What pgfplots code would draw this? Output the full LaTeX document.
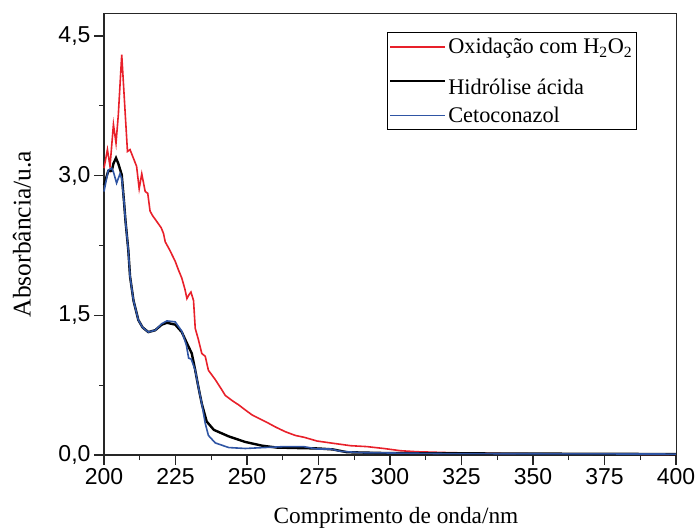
\documentclass[border=0pt]{standalone}
\usepackage{pgfplots}
\pgfplotsset{compat=1.18}
\usepackage{fontspec}
\setmainfont{Liberation Serif}
\newfontfamily\arialfont{Liberation Sans}

\definecolor{oxred}{HTML}{E8202A}
\definecolor{ketoblue}{HTML}{2F55A4}

% sample line for a taller legend row: the extra point lowers the line to the text
\pgfplotsset{
  lowered legend/.style={
    legend image code/.code={\draw[##1] (0pt,0pt) -- (55pt,0pt); \path (0pt,12pt);}
  }
}

\begin{document}
\begin{tikzpicture}
\useasboundingbox (0,0) rectangle (696pt,528pt);
\begin{axis}[
  at={(104pt,73pt)}, anchor=south west,
  width=572pt, height=442pt, scale only axis,
  xmin=200, xmax=400, ymin=0, ymax=4.747,
  axis lines*=left,
  clip=false,
  xtick={200,225,...,400},
  ytick={0,1.5,3,4.5},
  minor x tick num=1, minor y tick num=1,
  tick align=outside,
  major tick length=10pt, minor tick length=5pt,
  every tick/.style={line width=1.2pt, black!85},
  axis line style={line width=1.4pt, black!85},
  /pgf/number format/assume math mode=true,
  ticklabel style={font=\arialfont\fontsize{23}{26}\selectfont},
  xticklabel style={/pgf/number format/.cd, fixed, precision=0, 1000 sep={}},
  yticklabel style={/pgf/number format/.cd, fixed, fixed zerofill, precision=1, use comma},
  xlabel={Comprimento de onda/nm},
  ylabel={Absorbância/u.a},
  xlabel style={font=\fontsize{23.3}{28}\selectfont,
    at={(axis description cs:0.5,0)}, anchor=base, yshift=-68pt, xshift=6pt},
  ylabel style={font=\fontsize{25.5}{30}\selectfont,
    at={(axis description cs:-0.1434,0.5)}, anchor=center},
  legend style={
    at={(0.494,0.957)}, anchor=north west,
    draw=black, line width=0.8pt, fill=white,
    font=\fontsize{22.3}{26}\selectfont,
    inner xsep=2pt, inner ysep=4pt, row sep=7pt,
    cells={anchor=west},
  },
  legend image code/.code={\draw[#1] (0pt,0pt) -- (55pt,0pt);},
]

% oxidation with hydrogen peroxide
\addplot[oxred, line width=1.6pt] coordinates {
(200.0,3.08) (201.2,3.28) (202.1,3.10) (203.3,3.55) (204.2,3.35) (205.0,3.65)
(206.2,4.30) (208.2,3.26) (209.1,3.28) (211.4,3.10) (212.3,2.86) (213.2,3.02)
(214.4,2.83) (215.3,2.81) (216.1,2.62) (217.0,2.57) (218.4,2.51) (220.0,2.44)
(220.8,2.38) (221.4,2.29) (223.0,2.20) (224.9,2.08) (226.0,1.99) (227.2,1.90)
(228.3,1.78) (229.0,1.68) (229.7,1.72) (230.4,1.75) (231.3,1.66) (231.9,1.36)
(233.0,1.24) (234.2,1.09) (235.4,1.06) (236.5,0.91) (238.9,0.81) (241.2,0.70)
(242.4,0.64) (245.0,0.58) (247.0,0.54) (250.0,0.47) (251.8,0.43) (255.0,0.38)
(257.6,0.34) (260.0,0.30) (263.4,0.25) (266.9,0.21) (270.0,0.19) (274.5,0.15)
(280.3,0.125) (286.2,0.10) (292.0,0.09) (297.8,0.07) (303.7,0.046) (309.5,0.035)
(321.0,0.025) (340.0,0.015) (360.0,0.010) (400.0,0.008)
};
\addlegendentry{Oxidação com H\textsubscript{2}O\textsubscript{2}}

% acid hydrolysis
\addplot[black, line width=2.4pt, lowered legend] coordinates {
(200.0,2.90) (201.5,3.05) (202.7,3.05) (203.3,3.13) (204.2,3.19) (205.0,3.13)
(206.2,3.01) (207.0,2.72) (207.5,2.52) (208.5,2.20) (209.1,1.92) (210.3,1.66)
(212.0,1.45) (213.5,1.37) (215.5,1.32) (217.9,1.34) (220.2,1.40) (222.0,1.42)
(224.9,1.40) (227.2,1.32) (229.0,1.20) (230.7,1.09) (231.9,0.91) (233.0,0.73)
(234.2,0.55) (235.9,0.36) (238.4,0.27) (243.6,0.20) (249.4,0.14) (255.3,0.10)
(260.4,0.08) (267.0,0.075) (275.0,0.07) (280.0,0.06) (285.0,0.03) (300.0,0.02)
(400.0,0.01)
};
\addlegendentry{\rule{0pt}{28pt}Hidrólise ácida}

% ketoconazole reference
\addplot[ketoblue, line width=1.6pt] coordinates {
(200.0,2.83) (201.5,3.06) (202.7,3.08) (203.3,3.04) (204.4,2.92) (205.6,3.02)
(206.2,2.97) (207.0,2.72) (207.5,2.52) (208.5,2.20) (209.1,1.92) (210.3,1.66)
(212.0,1.45) (213.5,1.37) (215.5,1.32) (217.9,1.34) (220.2,1.41) (222.0,1.44)
(224.9,1.43) (227.2,1.33) (228.8,1.18) (229.6,1.04) (230.5,1.03) (231.9,0.91)
(233.0,0.73) (234.2,0.55) (235.4,0.34) (236.5,0.21) (238.9,0.13) (243.6,0.08)
(249.4,0.07) (256.0,0.08) (262.8,0.09) (269.8,0.09) (274.5,0.065) (279.2,0.065)
(282.6,0.04) (290.0,0.025) (320.0,0.015) (400.0,0.01)
};
\addlegendentry{Cetoconazol}

% thinner frame lines on the top and right sides
\draw[line width=0.8pt, black!85] (rel axis cs:0,1) -- (rel axis cs:1,1) -- (rel axis cs:1,0);
\end{axis}
\end{tikzpicture}
\end{document}
